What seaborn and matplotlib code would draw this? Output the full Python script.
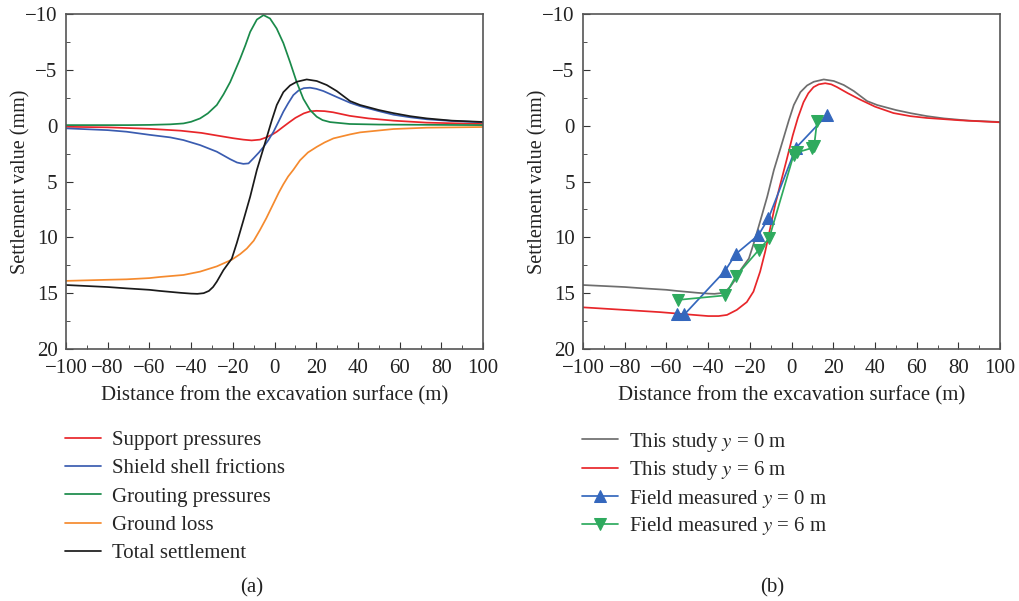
import pandas as pd
import matplotlib.pyplot as plt
import seaborn as sns
from matplotlib.ticker import MultipleLocator

# Panel (a): settlement components (distance in m, settlement in mm, positive = down)
sup_x = [-100, -80, -60, -45, -35, -27.7, -20, -15, -11, -7, -4, -1, 1, 4, 7, 10, 14, 17, 20, 24, 28, 36, 45, 57, 73, 100]
sup_y = [0.1, 0.15, 0.28, 0.45, 0.65, 0.88, 1.12, 1.25, 1.32, 1.25, 1.05, 0.78, 0.55, 0.12, -0.3, -0.7, -1.1, -1.28, -1.33, -1.3, -1.2, -0.88, -0.65, -0.45, -0.27, -0.15]

shl_x = [-100, -80, -71, -60, -50, -43.7, -35.7, -27.7, -21.3, -18, -15, -12.5, -10, -7.5, -5.3, -3, -0.5, 2, 4.2, 6.5, 9, 11.5, 14, 17, 20, 23.4, 30, 36.2, 41, 50, 57, 65, 73, 85, 100]
shl_y = [0.24, 0.4, 0.54, 0.82, 1.05, 1.29, 1.74, 2.33, 3.0, 3.3, 3.42, 3.38, 2.9, 2.4, 1.9, 1.3, 0.54, -0.4, -1.25, -2.0, -2.74, -3.15, -3.36, -3.4, -3.3, -3.1, -2.55, -2.05, -1.75, -1.3, -0.98, -0.75, -0.57, -0.42, -0.3]

grt_x = [-100, -70, -60, -50, -43.7, -40, -35.7, -32, -27.7, -24.5, -21.3, -19, -16.5, -14, -11.7, -8.5, -5.3, -2.2, 1, 4.2, 7.4, 10.6, 13.8, 17, 20.2, 23, 26.6, 36, 50, 100]
grt_y = [-0.05, -0.05, -0.07, -0.12, -0.2, -0.35, -0.65, -1.1, -1.85, -2.8, -3.9, -4.9, -6.0, -7.2, -8.4, -9.5, -9.9, -9.6, -8.7, -7.4, -5.7, -3.9, -2.4, -1.4, -0.8, -0.5, -0.32, -0.15, -0.1, -0.05]

gl_x = [-100, -80, -71, -60, -55, -43.7, -35.7, -27.7, -20.5, -16.5, -13.3, -10, -7, -4, -0.5, 2, 4.2, 6.5, 9, 12.2, 16, 20.2, 24, 28.2, 36.2, 41, 57, 73, 100]
gl_y = [13.9, 13.8, 13.76, 13.65, 13.55, 13.37, 13.07, 12.6, 12.0, 11.5, 11.0, 10.3, 9.34, 8.3, 6.96, 6.0, 5.25, 4.55, 3.95, 3.1, 2.4, 1.9, 1.5, 1.14, 0.78, 0.6, 0.3, 0.18, 0.12]

tot_x = [-100, -80, -71, -60, -55, -45, -40, -37, -34, -31.5, -29.5, -27.7, -24.5, -20.5, -18.1, -14.9, -11.7, -8.5, -5.3, -3.7, -1.3, 1.05, 4.2, 7.4, 10.6, 15.4, 20.2, 25, 29.8, 36.2, 41, 50, 57, 65, 73, 85, 100]
tot_y = [14.27, 14.45, 14.57, 14.7, 14.8, 14.97, 15.04, 15.06, 15.0, 14.8, 14.45, 13.97, 12.93, 11.9, 10.5, 8.45, 6.36, 3.97, 2.0, 1.0, -0.5, -1.85, -3.0, -3.6, -3.93, -4.14, -4.0, -3.64, -3.1, -2.2, -1.85, -1.4, -1.12, -0.85, -0.65, -0.45, -0.33]

# Panel (b): model vs field measurements
s6_x = [-100, -80, -63, -50, -40, -35, -31, -26.3, -21.5, -18.3, -15.1, -12.7, -10.3, -7.9, -5.5, -2.3, 0.5, 3, 5.7, 8, 10.5, 13, 16.1, 19, 21.7, 27, 32.9, 40, 48.8, 57, 64.8, 80.8, 100]
s6_y = [16.27, 16.5, 16.7, 16.9, 17.05, 17.05, 16.95, 16.5, 15.8, 14.86, 13.07, 11.3, 9.2, 7.1, 5.3, 3.0, 0.9, -0.7, -2.1, -2.9, -3.45, -3.7, -3.8, -3.7, -3.46, -2.9, -2.33, -1.7, -1.13, -0.85, -0.69, -0.48, -0.3]

f0_x = [-54.8, -51.4, -31.9, -26.8, -15.9, -11.1, 2.0, 17.2]
f0_y = [16.9, 16.9, 13.0, 11.5, 9.8, 8.3, 2.0, -1.0]
f6_x = [-54.3, -31.9, -26.8, -15.6, -10.8, 1.0, 2.5, 9.8, 10.8, 12.2]
f6_y = [15.6, 15.2, 13.5, 11.1, 10.1, 2.6, 2.4, 2.0, 1.8, -0.4]

sns.set_style("ticks")
plt.rcParams['font.family'] = ['Liberation Serif', 'DejaVu Serif']
plt.rcParams['mathtext.fontset'] = 'stix'

fig = plt.figure(figsize=(10.2, 6.01), dpi=100)
ax1 = fig.add_axes([0.0647, 0.4193, 0.409, 0.5574])
ax2 = fig.add_axes([0.5716, 0.4193, 0.409, 0.5574])

fs = 15
lw = 1.25

series_a = [
    (sup_x, sup_y, '#e8262a', 'Support pressures'),
    (shl_x, shl_y, '#3a5cb0', 'Shield shell frictions'),
    (grt_x, grt_y, '#1a8a4a', 'Grouting pressures'),
    (gl_x, gl_y, '#f58a2e', 'Ground loss'),
    (tot_x, tot_y, '#1a1a1a', 'Total settlement'),
]
for xs, ys, c, lab in series_a:
    d = pd.DataFrame({'x': xs, 'y': ys})
    sns.lineplot(data=d, x='x', y='y', ax=ax1, color=c, lw=lw, label=lab, estimator=None, sort=False)

d = pd.DataFrame({'x': tot_x, 'y': tot_y})
sns.lineplot(data=d, x='x', y='y', ax=ax2, color='#6e6e6e', lw=lw, label=r'This study $y$ = 0 m', estimator=None, sort=False)
d = pd.DataFrame({'x': s6_x, 'y': s6_y})
sns.lineplot(data=d, x='x', y='y', ax=ax2, color='#e8262a', lw=lw, label=r'This study $y$ = 6 m', estimator=None, sort=False)
d = pd.DataFrame({'x': f0_x, 'y': f0_y})
sns.lineplot(data=d, x='x', y='y', ax=ax2, color='#3467bd', lw=lw, marker='^', markersize=8, markeredgecolor='#3467bd',
             label=r'Field measured $y$ = 0 m', estimator=None, sort=False)
d = pd.DataFrame({'x': f6_x, 'y': f6_y})
sns.lineplot(data=d, x='x', y='y', ax=ax2, color='#2eaa5e', lw=lw, marker='v', markersize=8, markeredgecolor='#2eaa5e',
             label=r'Field measured $y$ = 6 m', estimator=None, sort=False)

for ax, lx, cap, cx, lsp in [(ax1, 0.0539, '(a)', 0.247, 0.42), (ax2, 0.5608, '(b)', 0.757, 0.27)]:
    ax.set_xlim(-100, 100)
    ax.set_ylim(20, -10)
    ax.xaxis.set_major_locator(MultipleLocator(20))
    ax.xaxis.set_minor_locator(MultipleLocator(10))
    ax.yaxis.set_major_locator(MultipleLocator(5))
    ax.yaxis.set_minor_locator(MultipleLocator(2.5))
    ax.tick_params(which='both', direction='in', top=False, right=False, labelsize=fs, colors='#333333', labelcolor='#222222')
    ax.tick_params(which='major', length=5)
    ax.tick_params(which='minor', length=3)
    ax.tick_params(axis='x', pad=7)
    ax.tick_params(axis='y', pad=6)
    for s in ax.spines.values():
        s.set_color('#555555')
        s.set_linewidth(1.2)
    ax.set_xlabel('Distance from the excavation surface (m)', fontsize=fs, color='#222222', labelpad=6)
    ax.set_ylabel('Settlement value (mm)', fontsize=14.5, color='#222222', labelpad=-4)
    ax.legend(loc='upper left', bbox_to_anchor=(lx, 0.301), bbox_transform=fig.transFigure, frameon=False,
              fontsize=fs, handlelength=1.7, labelspacing=lsp, handletextpad=0.55, borderpad=0)
    fig.text(cx, 0.0216, cap, fontsize=fs, ha='center', va='center', color='#222222')

fig.savefig('out.png', dpi=100)
